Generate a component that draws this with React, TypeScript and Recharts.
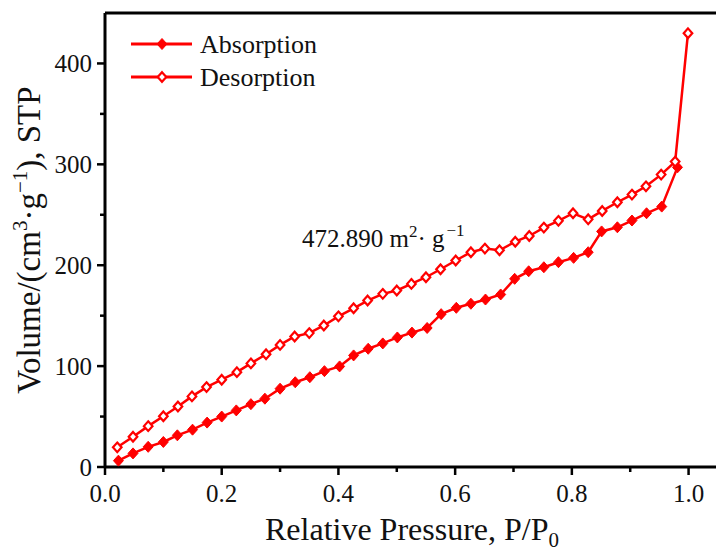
import React from 'react';
import { LineChart, Line, XAxis, YAxis, ReferenceLine, Legend } from 'recharts';

const FONT = "'Liberation Serif', 'Times New Roman', Tinos, 'DejaVu Serif', serif";
const RED = '#FF0000';

// Adsorption branch (relative pressure P/P0, volume cm3/g STP)
const adsorptionP = [0.023, 0.048, 0.074, 0.1, 0.124, 0.15, 0.175, 0.2, 0.225, 0.25, 0.274, 0.3, 0.326, 0.351, 0.376, 0.402, 0.426, 0.451, 0.476, 0.501, 0.526, 0.552, 0.576, 0.602, 0.627, 0.652, 0.678, 0.702, 0.726, 0.752, 0.777, 0.803, 0.828, 0.851, 0.878, 0.903, 0.928, 0.954, 0.981];
const adsorptionV = [6.3, 13.5, 20, 24.8, 31.4, 37, 44, 50, 56.1, 62.3, 67.7, 77.6, 84, 89, 95, 99.7, 110.6, 117.2, 122.5, 128.4, 133.2, 137.8, 151.5, 157.8, 161.8, 166, 171, 186.5, 194, 198, 203, 207.3, 212.9, 233.5, 237.6, 244.3, 251.5, 258.1, 297];

// Desorption branch
const desorptionP = [0.021, 0.048, 0.074, 0.1, 0.125, 0.149, 0.174, 0.2, 0.226, 0.25, 0.276, 0.3, 0.325, 0.35, 0.375, 0.4, 0.426, 0.45, 0.476, 0.5, 0.525, 0.55, 0.575, 0.601, 0.627, 0.651, 0.676, 0.703, 0.727, 0.752, 0.777, 0.802, 0.828, 0.852, 0.878, 0.903, 0.927, 0.953, 0.977, 0.999];
const desorptionV = [19.5, 30, 40.5, 50.3, 60, 70, 79.2, 86.5, 94, 102.7, 111.8, 121, 129.4, 132.7, 140.3, 149.3, 157.3, 165, 171.6, 175, 181.5, 188.1, 196, 204.7, 212.9, 216.5, 214.8, 223.3, 229, 237.3, 244, 251.5, 245.5, 253.8, 262.4, 270, 278.2, 289.8, 302.7, 430];

const xTicks = [0, 0.1, 0.2, 0.3, 0.4, 0.5, 0.6, 0.7, 0.8, 0.9, 1.0];
const xMajorTicks = [0, 0.2, 0.4, 0.6, 0.8, 1.0];
const yTicks = [0, 50, 100, 150, 200, 250, 300, 350, 400];
const yMajorTicks = [0, 100, 200, 300, 400];

const seriesNames = ['Absorption', 'Desorption'];

const adsorption = adsorptionP.map((p, i) => ({ p, v: adsorptionV[i] }));
const desorption = desorptionP.map((p, i) => ({ p, v: desorptionV[i] }));

const Diamond = ({ cx, cy, filled }: { cx: number; cy: number; filled: boolean }) => {
  const w = filled ? 5 : 4.3;
  const h = filled ? 5.5 : 4.8;
  const d = `M${cx},${cy - h} L${cx + w},${cy} L${cx},${cy + h} L${cx - w},${cy} Z`;
  return filled ? (
    <path d={d} fill={RED} stroke={RED} strokeWidth={1} />
  ) : (
    <path d={d} fill="#fff" stroke={RED} strokeWidth={2.2} />
  );
};

const XTick = (props: any) => {
  const { x, y, payload } = props;
  const major = xMajorTicks.some((t) => Math.abs(t - payload.value) < 1e-9);
  return (
    <g>
      <line x1={x} x2={x} y1={y} y2={y + (major ? 8 : 5)} stroke="#000" strokeWidth={2.5} />
      {major && (
        <text x={x} y={y + 35} textAnchor="middle" fontSize={25} style={{ fontFamily: FONT }} fill="#111">
          {Number(payload.value).toFixed(1)}
        </text>
      )}
    </g>
  );
};

const YTick = (props: any) => {
  const { x, y, payload } = props;
  const major = yMajorTicks.includes(payload.value);
  return (
    <g>
      <line x1={x - (major ? 8 : 5)} x2={x} y1={y} y2={y} stroke="#000" strokeWidth={2.5} />
      {major && (
        <text x={x - 13} y={y + 8.5} textAnchor="end" fontSize={25} style={{ fontFamily: FONT }} fill="#111">
          {payload.value}
        </text>
      )}
    </g>
  );
};

const XLabel = (props: any) => {
  const vb = props.viewBox || {};
  const cx = 412;
  const by = (vb.y || 467) + 73;
  return (
    <text x={cx} y={by} textAnchor="middle" fontSize={32} style={{ fontFamily: FONT }} fill="#111">
      Relative Pressure, P/P
      <tspan dy={7} fontSize={21}>0</tspan>
    </text>
  );
};

const YLabel = (props: any) => {
  const vb = props.viewBox || {};
  const cy = (vb.y || 13) + (vb.height || 454) / 2;
  const x = 40;
  return (
    <text x={x} y={cy} transform={`rotate(-90, ${x}, ${cy})`} textAnchor="middle" fontSize={33} style={{ fontFamily: FONT }} fill="#111">
      Volume/(cm
      <tspan dy={-13} fontSize={21}>3</tspan>
      <tspan dy={13}>·g</tspan>
      <tspan dy={-13} fontSize={21}>−1</tspan>
      <tspan dy={13}>), STP</tspan>
    </text>
  );
};

const renderLegend = (props: any) => {
  const payload = props.payload || [];
  return (
    <svg width={230} height={70} style={{ display: 'block', overflow: 'visible' }}>
      {payload.map((entry: any, i: number) => {
        const cy = 19 + i * 33;
        return (
          <g key={entry.value}>
            <line x1={6} x2={67} y1={cy} y2={cy} stroke={RED} strokeWidth={3} />
            <Diamond cx={37} cy={cy} filled={i === 0} />
            <text x={75} y={cy + 9} fontSize={26} style={{ fontFamily: FONT }} fill="#111">
              {entry.value}
            </text>
          </g>
        );
      })}
    </svg>
  );
};

export default function App() {
  return (
    <div style={{ position: 'absolute', left: 0, top: 0, width: 716, height: 553, background: '#fff', fontFamily: FONT }}>
      <LineChart width={716} height={553} margin={{ top: 13, right: 0, bottom: 0, left: 0 }}>
        <XAxis
          type="number"
          dataKey="p"
          domain={[0, 1.047]}
          allowDataOverflow
          ticks={xTicks}
          interval={0}
          height={86}
          tickSize={0}
          tickMargin={0}
          tickLine={false}
          tick={<XTick />}
          axisLine={{ stroke: '#000', strokeWidth: 3 }}
          label={<XLabel />}
        />
        <YAxis
          type="number"
          dataKey="v"
          domain={[0, 450]}
          allowDataOverflow
          ticks={yTicks}
          interval={0}
          width={105}
          tickSize={0}
          tickMargin={0}
          tickLine={false}
          tick={<YTick />}
          axisLine={{ stroke: '#000', strokeWidth: 3 }}
          label={<YLabel />}
        />
        <ReferenceLine y={450} stroke="#000" strokeWidth={3} />
        <Line
          data={adsorption}
          dataKey="v"
          name={seriesNames[0]}
          stroke={RED}
          strokeWidth={2.5}
          isAnimationActive={false}
          activeDot={false}
          dot={(p: any) => <Diamond key={`a${p.index}`} cx={p.cx} cy={p.cy} filled />}
        />
        <Line
          data={desorption}
          dataKey="v"
          name={seriesNames[1]}
          stroke={RED}
          strokeWidth={2.5}
          isAnimationActive={false}
          activeDot={false}
          dot={(p: any) => <Diamond key={`d${p.index}`} cx={p.cx} cy={p.cy} filled={false} />}
        />
        <Legend
          layout="vertical"
          align="center"
          verticalAlign="middle"
          content={renderLegend}
          wrapperStyle={{ left: 125, top: 25, width: 230, height: 70 }}
        />
      </LineChart>
      <svg width={716} height={553} style={{ position: 'absolute', left: 0, top: 0, pointerEvents: 'none' }}>
        <text x={302} y={247} fontSize={25} style={{ fontFamily: FONT }} fill="#111">
          472.890 m
          <tspan dy={-10} fontSize={17}>2</tspan>
          <tspan dy={10}>·  g</tspan>
          <tspan dy={-11} fontSize={17} dx={2}>−1</tspan>
        </text>
      </svg>
    </div>
  );
}
